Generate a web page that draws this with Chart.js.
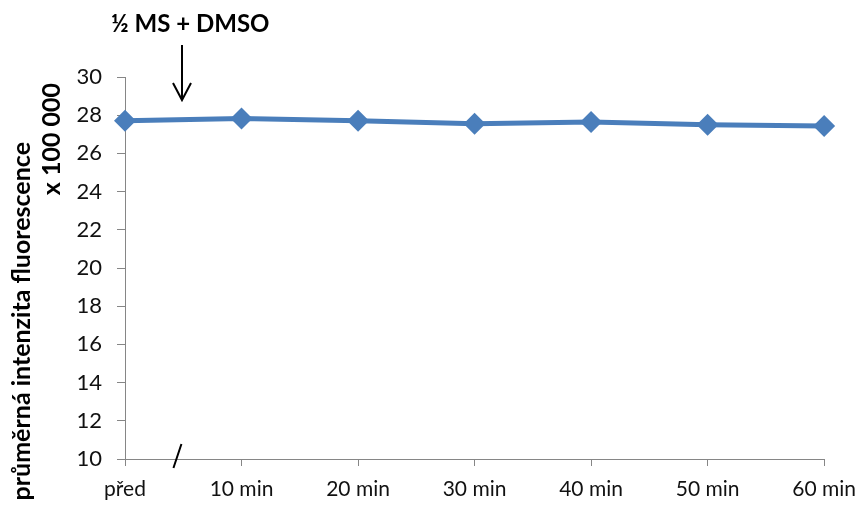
<!DOCTYPE html>
<html>
<head>
<meta charset="utf-8">
<script src="https://cdn.jsdelivr.net/npm/chart.js@4/dist/chart.umd.min.js"></script>
<style>
  html, body { margin: 0; padding: 0; background: #fff; }
  #wrap { width: 867px; height: 506px; }
</style>
</head>
<body>
<div id="wrap"><canvas id="c" width="867" height="506"></canvas></div>
<script>
// Mean fluorescence intensity (x 100 000) before and after adding ½ MS + DMSO
const categories = ['před', '10 min', '20 min', '30 min', '40 min', '50 min', '60 min'];
const fluorescence = [27.71, 27.83, 27.71, 27.55, 27.65, 27.50, 27.44];
const yTicks = [10, 12, 14, 16, 18, 20, 22, 24, 26, 28, 30];
const yTitleLines = ['průměrná intenzita fluorescence', 'x 100 000'];
const treatmentLabel = '½ MS + DMSO';
const treatmentAt = 0.49;   // where the treatment arrow points, in category units
const treatmentTextAt = 0.56;
const breakAt = 0.45;       // axis break mark between "před" and "10 min"

const FONT = "Lato, Carlito, sans-serif";
const AXIS = '#868686';
const INK = '#111';

const notes = {
  id: 'notes',
  afterDraw(chart) {
    const { ctx, chartArea, scales: { x } } = chart;
    ctx.save();

    // axis break mark on the category axis
    const bx = x.getPixelForValue(breakAt);
    const by = chartArea.bottom - 3;
    ctx.strokeStyle = '#000';
    ctx.lineWidth = 2;
    ctx.beginPath();
    ctx.moveTo(bx - 4, by + 12);
    ctx.lineTo(bx + 4, by - 12);
    ctx.stroke();

    // treatment arrow
    const ax = Math.round(x.getPixelForValue(treatmentAt));
    const top = chartArea.top - 32, tip = chartArea.top + 23;
    ctx.lineWidth = 2;
    ctx.beginPath();
    ctx.moveTo(ax, top);
    ctx.lineTo(ax, tip);
    ctx.moveTo(ax - 9, tip - 17);
    ctx.lineTo(ax, tip);
    ctx.lineTo(ax + 9, tip - 17);
    ctx.stroke();

    // treatment label
    ctx.fillStyle = '#000';
    ctx.font = 'bold 24px ' + FONT;
    ctx.textAlign = 'center';
    ctx.textBaseline = 'middle';
    ctx.fillText(treatmentLabel, x.getPixelForValue(treatmentTextAt), chartArea.top - 53);

    // value axis title, two rotated lines
    ctx.font = 'bold 25px ' + FONT;
    ctx.textAlign = 'right';
    ctx.save();
    ctx.translate(22, 142);
    ctx.rotate(-Math.PI / 2);
    ctx.fillText(yTitleLines[0], 0, 0);
    ctx.restore();
    ctx.save();
    ctx.translate(52, 83);
    ctx.rotate(-Math.PI / 2);
    ctx.fillText(yTitleLines[1], 0, 0);
    ctx.restore();

    ctx.restore();
  }
};

new Chart(document.getElementById('c'), {
  type: 'line',
  data: {
    labels: categories,
    datasets: [{
      data: fluorescence,
      borderColor: '#4a7ebb',
      backgroundColor: '#4a7ebb',
      borderWidth: 5,
      tension: 0,
      pointStyle: 'rectRot',
      pointRadius: 11,
      pointHoverRadius: 11,
      pointBorderWidth: 0,
      clip: false
    }]
  },
  options: {
    responsive: false,
    animation: false,
    devicePixelRatio: 1,
    layout: { padding: { left: 0, top: 77, right: 38, bottom: 0 } },
    plugins: { legend: { display: false }, tooltip: { enabled: false }, title: { display: false } },
    scales: {
      x: {
        type: 'category',
        offset: false,
        grid: { display: true, drawOnChartArea: false, drawTicks: true, tickLength: 7, color: AXIS },
        border: { display: true, color: AXIS, width: 1 },
        ticks: { color: INK, font: { family: FONT, size: 21 }, padding: 11, maxRotation: 0, autoSkip: false },
        afterFit(s) { s.height = 47; }
      },
      y: {
        min: yTicks[0],
        max: yTicks[yTicks.length - 1],
        afterBuildTicks(s) { s.ticks = yTicks.map(v => ({ value: v })); },
        grid: { display: true, drawOnChartArea: false, drawTicks: true, tickLength: 8, color: AXIS },
        border: { display: true, color: AXIS, width: 1 },
        ticks: { color: INK, font: { family: FONT, size: 22 }, padding: 15 },
        afterFit(s) { s.width = 125; }
      }
    }
  },
  plugins: [notes]
});
</script>
</body>
</html>
